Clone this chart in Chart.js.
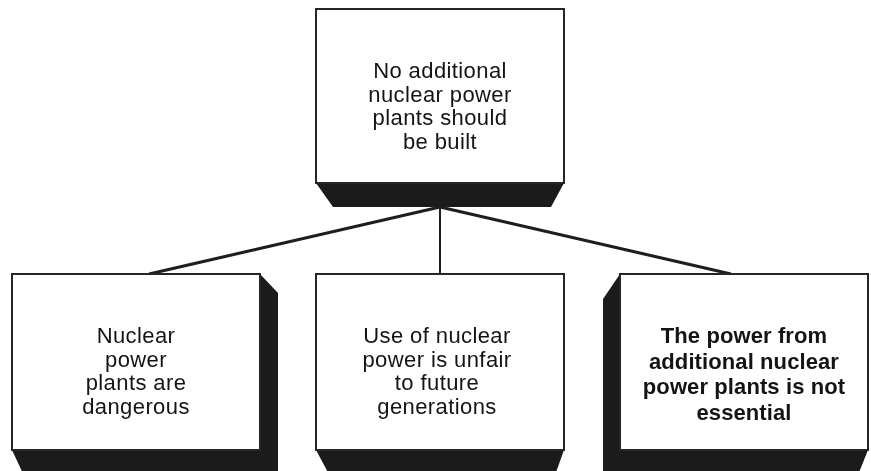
<!DOCTYPE html>
<html>
<head>
<meta charset="utf-8">
<script src="https://cdn.jsdelivr.net/npm/chart.js@4.4.0/dist/chart.umd.min.js"></script>
<style>
  html, body { margin: 0; padding: 0; background: #fff; }
  #wrap { width: 871px; height: 471px; }
</style>
</head>
<body>
<div id="wrap"><canvas id="tree" width="871" height="471"></canvas></div>
<script>
// argument tree: one claim, three supporting reasons
const nodeText = [
    ['No additional', 'nuclear power', 'plants should', 'be built'],
    ['Nuclear', 'power', 'plants are', 'dangerous'],
    ['Use of nuclear', 'power is unfair', 'to future', 'generations'],
    ['The power from', 'additional nuclear', 'power plants is not', 'essential']
];
const nodeLevel = [0, 1, 1, 1];
const nodeColumn = [1, 0, 1, 2];
const nodeParent = [null, 0, 0, 0];

// layout (diagram units == pixels of the 871x471 area)
const colCenter = [136, 440, 744];
const levelTop = [9, 274];
const levelBottom = [183, 450];
const boxW = 248;
const depth = 24;
const boldNodes = [3];

function boxOf(i) {
    const cx = colCenter[nodeColumn[i]];
    return {
        cx,
        L: cx - boxW / 2,
        R: cx + boxW / 2,
        T: levelTop[nodeLevel[i]],
        B: levelBottom[nodeLevel[i]],
        col: nodeColumn[i],
        level: nodeLevel[i]
    };
}

// connector lines, built from the layout of each parent/child pair
const connectors = [];
nodeParent.forEach((p, i) => {
    if (p === null) return;
    const pb = boxOf(p), cb = boxOf(i);
    const endX = cb.cx + Math.sign(pb.cx - cb.cx) * 13;
    connectors.push({
        data: [{ x: pb.cx, y: pb.B + depth }, { x: endX, y: cb.T }],
        width: cb.col === 1 ? 2 : 3
    });
});

const boxPlugin = {
    id: 'boxes',
    afterDatasetsDraw(chart) {
        const ctx = chart.ctx;
        const xs = chart.scales.x, ys = chart.scales.y;
        const px = v => xs.getPixelForValue(v);
        const py = v => ys.getPixelForValue(v);

        nodeText.forEach((lines, i) => {
            const b = boxOf(i);
            // shadow / extrusion
            let pts;
            if (b.level === 0) {
                pts = [[b.L, b.B], [b.R, b.B], [b.R - 13, b.B + depth], [b.L + 17, b.B + depth]];
            } else if (b.col === 0) {
                pts = [[b.R, b.T], [b.R + 18, b.T + 19], [b.R + 18, b.B + depth + 6], [b.L + 14, b.B + depth + 6], [b.L, b.B]];
            } else if (b.col === 2) {
                pts = [[b.L, b.T], [b.L - 17, b.T + 25], [b.L - 17, b.B + depth + 6], [b.R - 12, b.B + depth + 6], [b.R, b.B]];
            } else {
                pts = [[b.L, b.B], [b.R, b.B], [b.R - 10, b.B + depth + 4], [b.L + 15, b.B + depth + 4]];
            }
            ctx.save();
            ctx.fillStyle = '#1b1b1b';
            ctx.beginPath();
            pts.forEach((p, k) => k ? ctx.lineTo(px(p[0]), py(p[1])) : ctx.moveTo(px(p[0]), py(p[1])));
            ctx.closePath();
            ctx.fill();

            // face
            ctx.fillStyle = '#ffffff';
            ctx.strokeStyle = '#262626';
            ctx.lineWidth = 2;
            ctx.fillRect(px(b.L), py(b.T), px(b.R) - px(b.L), py(b.B) - py(b.T));
            ctx.strokeRect(px(b.L), py(b.T), px(b.R) - px(b.L), py(b.B) - py(b.T));

            // text
            const bold = boldNodes.includes(i);
            ctx.fillStyle = '#141414';
            ctx.font = (bold ? 'bold ' : '') + '22px "Liberation Sans", Arial, sans-serif';
            ctx.letterSpacing = bold ? '0.1px' : '0.4px';
            ctx.textAlign = 'center';
            ctx.textBaseline = 'alphabetic';
            const lh = bold ? 25.5 : 23.7;
            const tx = b.col === 1 && b.level === 1 ? b.cx - 3 : b.cx;
            lines.forEach((s, k) => {
                ctx.fillText(s, px(tx), py(b.T + 69 + k * lh));
            });
            ctx.restore();
        });
    }
};

new Chart(document.getElementById('tree'), {
    type: 'scatter',
    data: {
        datasets: connectors.map(c => ({
            data: c.data,
            showLine: true,
            borderColor: '#1e1e1e',
            borderWidth: c.width,
            pointRadius: 0,
            fill: false
        }))
    },
    options: {
        responsive: false,
        animation: false,
        layout: { padding: 0 },
        plugins: { legend: { display: false }, tooltip: { enabled: false } },
        scales: {
            x: { type: 'linear', min: 0, max: 871, display: false },
            y: { type: 'linear', min: 0, max: 471, reverse: true, display: false }
        }
    },
    plugins: [boxPlugin]
});
</script>
</body>
</html>
